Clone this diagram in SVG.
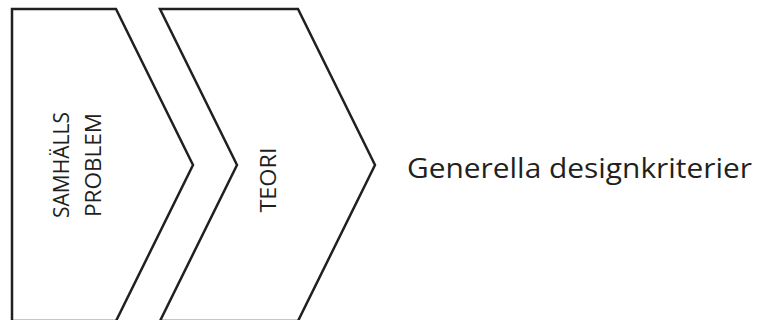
<svg xmlns="http://www.w3.org/2000/svg" width="783" height="320" viewBox="0 0 783 320">
<style>
.shape{fill:#ffffff;stroke:#231f20;stroke-width:2.5;stroke-linejoin:miter}
.lbl{font-family:"Open Sans","Liberation Sans",Arial,sans-serif;fill:#231f20;text-anchor:middle}
</style>
<rect width="783" height="320" fill="#ffffff"/>
<g id="samhalls">
<polygon class="shape" points="12,9 116,9 193,165 116,321 12,321"/>
<text class="lbl" font-size="21" transform="translate(69,165) rotate(-90)" textLength="106" lengthAdjust="spacingAndGlyphs">SAMHÄLLS</text>
<text class="lbl" font-size="21" transform="translate(101,165) rotate(-90)" textLength="104" lengthAdjust="spacingAndGlyphs">PROBLEM</text>
</g>
<g id="teori">
<polygon class="shape" points="160,9 298,9 375,165 298,321 160,321 237,165"/>
<text class="lbl" font-size="22" transform="translate(276,180) rotate(-90)" textLength="65" lengthAdjust="spacingAndGlyphs">TEORI</text>
</g>
<g id="generella">
<text font-family="'Open Sans','Liberation Sans',Arial,sans-serif" font-size="27" fill="#231f20" x="407" y="178" textLength="345" lengthAdjust="spacingAndGlyphs">Generella designkriterier</text>
</g>
<g id="connectors"></g>
</svg>
